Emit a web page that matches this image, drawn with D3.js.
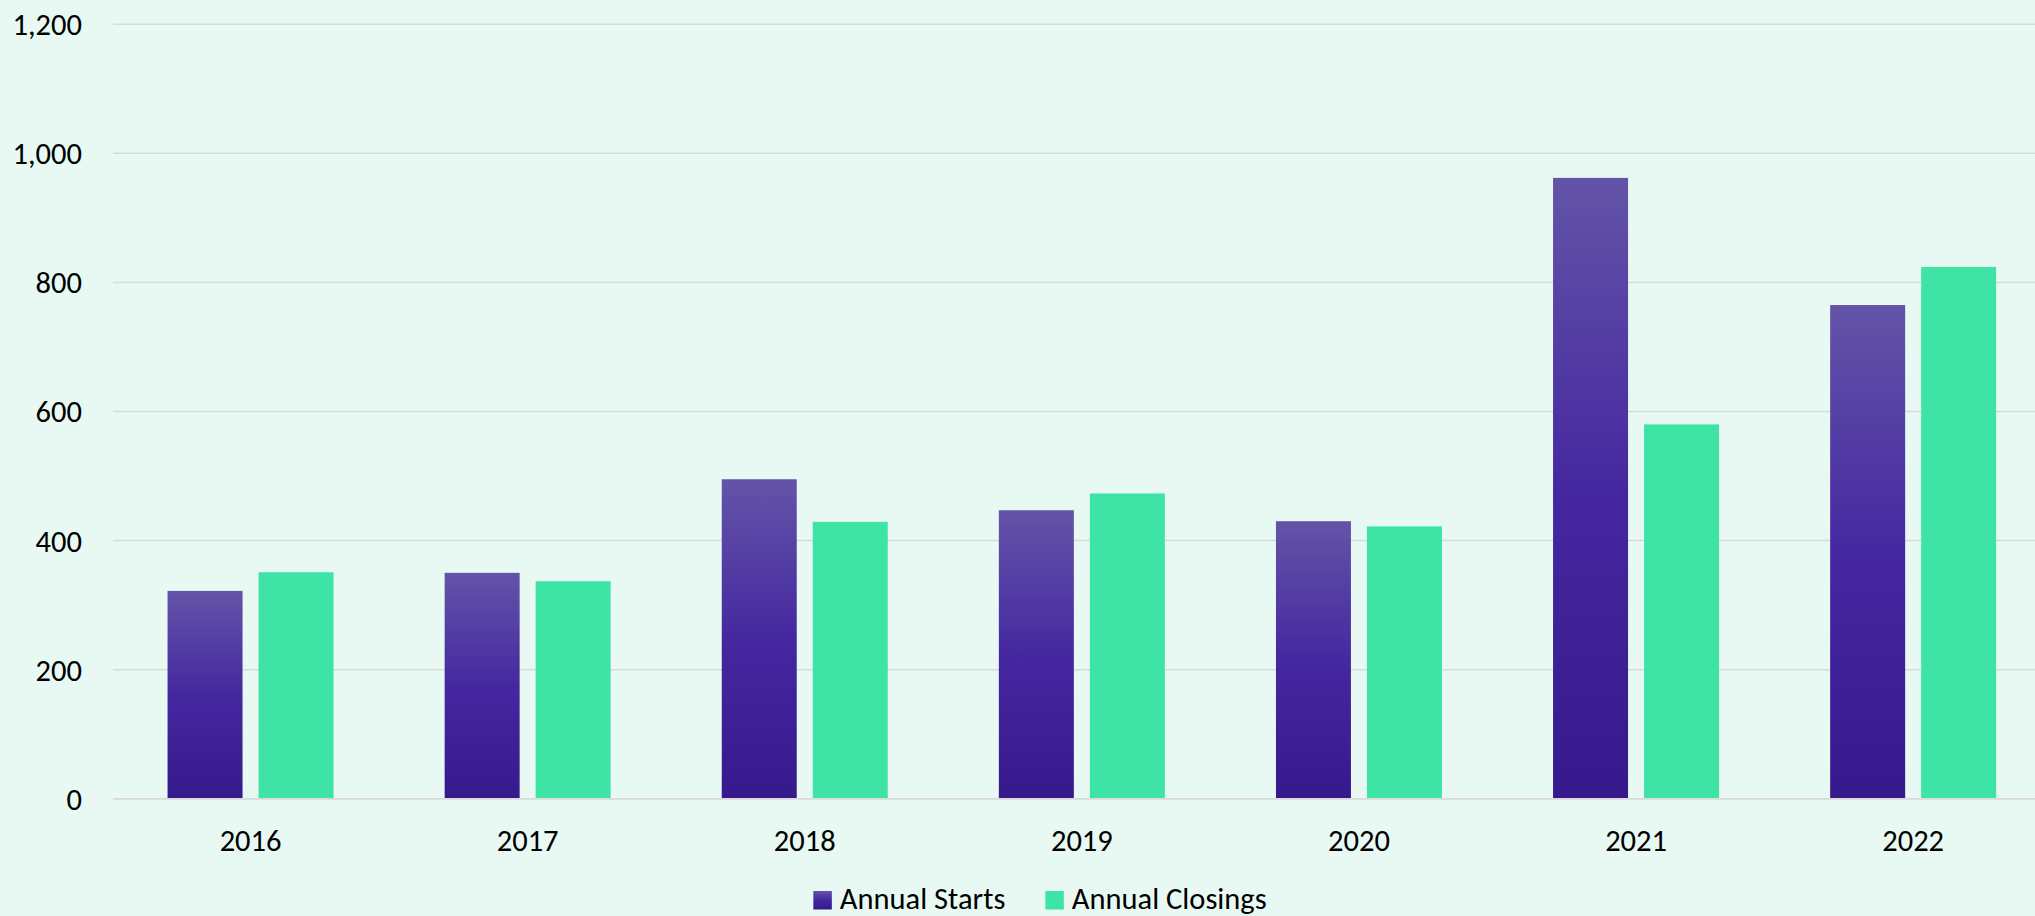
<!DOCTYPE html>
<html>
<head>
<meta charset="utf-8">
<script src="https://cdn.jsdelivr.net/npm/d3@7"></script>
<style>
  html, body { margin: 0; padding: 0; background: #E8F8F2; overflow: hidden; }
  svg { display: block; }
  text { font-family: Carlito, Lato, "Open Sans", sans-serif; fill: #000; }
</style>
</head>
<body>
<svg id="chart" width="2035" height="916"></svg>
<script>
const years = ["2016", "2017", "2018", "2019", "2020", "2021", "2022"];
const seriesNames = ["Annual Starts", "Annual Closings"];
const annualStarts = [322, 350, 495, 447, 430, 962, 765];
const annualClosings = [351, 337, 429, 473, 422, 580, 824];
const yTicks = [0, 200, 400, 600, 800, 1000, 1200];

(function () {
const W = 2035, H = 916;
const mLeft = 112, mRight = 2051.7, mTop = 24.3, mBottom = 798.7;
const fs = 30.5;

const svg = d3.select("#chart");
svg.append("rect").attr("width", W).attr("height", H).attr("fill", "#E8F8F2");

const defs = svg.append("defs");
const grad = defs.append("linearGradient").attr("id", "startsGrad")
  .attr("x1", 0).attr("y1", 0).attr("x2", 0).attr("y2", 1);
grad.append("stop").attr("offset", "0%").attr("stop-color", "#6354A8");
grad.append("stop").attr("offset", "50%").attr("stop-color", "#4528A0");
grad.append("stop").attr("offset", "100%").attr("stop-color", "#36198C");

const colors = { "Annual Starts": "url(#startsGrad)", "Annual Closings": "#3EE4A6" };

const x = d3.scaleBand().domain(years).range([mLeft, mRight])
  .paddingInner(0.401).paddingOuter(0.2005);
const xs = d3.scaleBand().domain(seriesNames).range([0, x.bandwidth()])
  .paddingInner(0.176).paddingOuter(0);
const y = d3.scaleLinear().domain([0, 1200]).range([mBottom, mTop]);

// gridlines
svg.append("g").selectAll("line").data(yTicks).join("line")
  .attr("x1", mLeft + 1).attr("x2", W)
  .attr("y1", d => y(d)).attr("y2", d => y(d))
  .attr("stroke", "#D9D9D9").attr("stroke-width", 1.5);

// y labels
const fmt = d3.format(",");
svg.append("g").selectAll("text").data(yTicks).join("text")
  .attr("x", 82).attr("y", d => y(d))
  .attr("dy", "0.36em")
  .attr("text-anchor", "end")
  .attr("font-size", fs)
  .text(d => fmt(d));

// bars
const data = years.map((yr, i) => ({ year: yr, values: [
  { key: "Annual Starts", v: annualStarts[i] },
  { key: "Annual Closings", v: annualClosings[i] }
]}));

const groups = svg.append("g").selectAll("g").data(data).join("g")
  .attr("transform", d => `translate(${x(d.year)},0)`);
groups.selectAll("rect").data(d => d.values).join("rect")
  .attr("x", d => xs(d.key))
  .attr("width", xs.bandwidth())
  .attr("y", d => y(d.v))
  .attr("height", d => y(0) - y(d.v))
  .attr("fill", d => colors[d.key]);

// baseline on top
svg.append("line").attr("x1", mLeft + 1).attr("x2", W)
  .attr("y1", y(0)).attr("y2", y(0))
  .attr("stroke", "#D9D9D9").attr("stroke-width", 1.5);

// x labels
svg.append("g").selectAll("text").data(years).join("text")
  .attr("x", d => x(d) + x.bandwidth() / 2)
  .attr("y", 851)
  .attr("text-anchor", "middle")
  .attr("font-size", fs)
  .text(d => d);

// legend
const sq = 18.5, sqGap = 8;
const legend = svg.append("g");
const items = legend.selectAll("g").data(seriesNames).join("g");
items.append("rect").attr("width", sq).attr("height", sq).attr("y", 891)
  .attr("fill", d => colors[d]);
items.append("text").attr("x", sq + sqGap).attr("y", 909).attr("font-size", fs).text(d => d);
const widths = [];
items.each(function() { widths.push(sq + sqGap + d3.select(this).select("text").node().getComputedTextLength()); });
const gap = 40;
const total = d3.sum(widths) + gap * (widths.length - 1);
let cx = 1040 - total / 2;
items.each(function(d, i) {
  d3.select(this).attr("transform", `translate(${cx},0)`);
  cx += widths[i] + gap;
});
})();
</script>
</body>
</html>
